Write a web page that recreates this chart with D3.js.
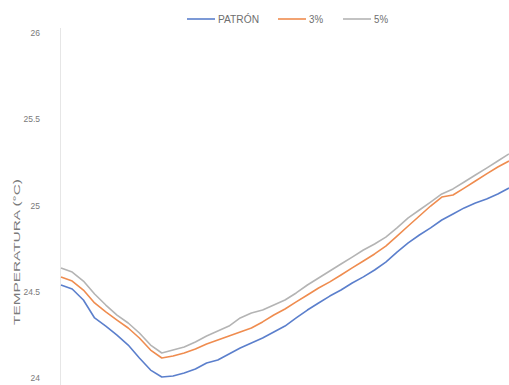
<!DOCTYPE html>
<html>
<head>
<meta charset="utf-8">
<script src="https://cdn.jsdelivr.net/npm/d3@7"></script>
<style>
  html, body { margin: 0; padding: 0; background: #fff; }
  svg { display: block; font-family: "Liberation Sans", Arial, sans-serif; }
</style>
</head>
<body>
<svg id="chart" width="509" height="385"></svg>
<script>
// Temperature readings (°C) per sample step
const steps = d3.range(41);
const patron = [24.539, 24.516, 24.452, 24.348, 24.301, 24.249, 24.191, 24.116, 24.046, 24.006,
  24.012, 24.029, 24.052, 24.087, 24.104, 24.139, 24.174, 24.203, 24.232, 24.267,
  24.301, 24.348, 24.394, 24.435, 24.475, 24.510, 24.551, 24.586, 24.626, 24.672,
  24.730, 24.783, 24.829, 24.870, 24.916, 24.951, 24.986, 25.014, 25.038, 25.067, 25.101];
const pct3 = [24.586, 24.562, 24.510, 24.435, 24.383, 24.336, 24.290, 24.232, 24.162, 24.116,
  24.128, 24.145, 24.168, 24.197, 24.220, 24.243, 24.267, 24.290, 24.325, 24.365,
  24.400, 24.441, 24.481, 24.522, 24.557, 24.597, 24.638, 24.678, 24.719, 24.765,
  24.823, 24.881, 24.939, 24.997, 25.049, 25.061, 25.101, 25.142, 25.183, 25.223, 25.258];
const pct5 = [24.638, 24.614, 24.562, 24.487, 24.423, 24.365, 24.319, 24.261, 24.191, 24.145,
  24.162, 24.180, 24.209, 24.243, 24.272, 24.301, 24.348, 24.377, 24.394, 24.423,
  24.452, 24.493, 24.539, 24.580, 24.620, 24.661, 24.701, 24.742, 24.777, 24.817,
  24.870, 24.928, 24.974, 25.020, 25.067, 25.096, 25.136, 25.177, 25.217, 25.258, 25.299];
const yTicks = [24, 24.5, 25, 25.5, 26];
const seriesNames = ["PATRÓN", "3%", "5%"];
const seriesColors = ["#5b7fcc", "#ef8c4f", "#b4b4b4"];
const seriesValues = [patron, pct3, pct5];

const svg = d3.select("#chart");
const x = d3.scaleLinear().domain([0, steps.length - 1]).range([61, 509]);
const y = d3.scaleLinear().domain([24, 26]).range([378, 33]);

// Vertical axis line
svg.append("line")
  .attr("x1", 60.5).attr("x2", 60.5)
  .attr("y1", 28).attr("y2", 385)
  .attr("stroke", "#e6e6e6").attr("stroke-width", 1);

// Y tick labels
const yAxis = d3.axisLeft(y).tickValues(yTicks).tickSize(0).tickPadding(0)
  .tickFormat(d => String(d));
const gy = svg.append("g").attr("transform", "translate(40,0)").call(yAxis);
gy.select(".domain").remove();
gy.selectAll("text").attr("fill", "#7a7a7a").attr("font-size", 8.5);

// Y axis title
svg.append("text")
  .attr("transform", "translate(20,252) rotate(-90)")
  .attr("text-anchor", "middle")
  .attr("fill", "#7a7a7a")
  .attr("font-size", 9.5)
  .attr("textLength", 146)
  .attr("lengthAdjust", "spacingAndGlyphs")
  .text("TEMPERATURA  (°C)");

// Series lines
const line = d3.line().x((d, i) => x(steps[i])).y(d => y(d)).curve(d3.curveLinear);
seriesValues.forEach((vals, k) => {
  svg.append("path")
    .datum(vals)
    .attr("fill", "none")
    .attr("stroke", seriesColors[k])
    .attr("stroke-width", 1.6)
    .attr("stroke-linejoin", "round")
    .attr("d", line);
});

// Legend
const legendItems = [
  { x1: 187, tx: 218, w: 41 },
  { x1: 278, tx: 309, w: 14 },
  { x1: 343, tx: 374, w: 14 }
];
const lg = svg.append("g");
seriesNames.forEach((name, k) => {
  const it = legendItems[k];
  lg.append("line")
    .attr("x1", it.x1).attr("x2", it.x1 + 28)
    .attr("y1", 19).attr("y2", 19)
    .attr("stroke", seriesColors[k]).attr("stroke-width", 1.6);
  lg.append("text")
    .attr("x", it.tx).attr("y", 23)
    .attr("fill", "#6e6e6e").attr("font-size", 10)
    .attr("textLength", it.w)
    .attr("lengthAdjust", "spacingAndGlyphs")
    .text(name);
});
</script>
</body>
</html>
